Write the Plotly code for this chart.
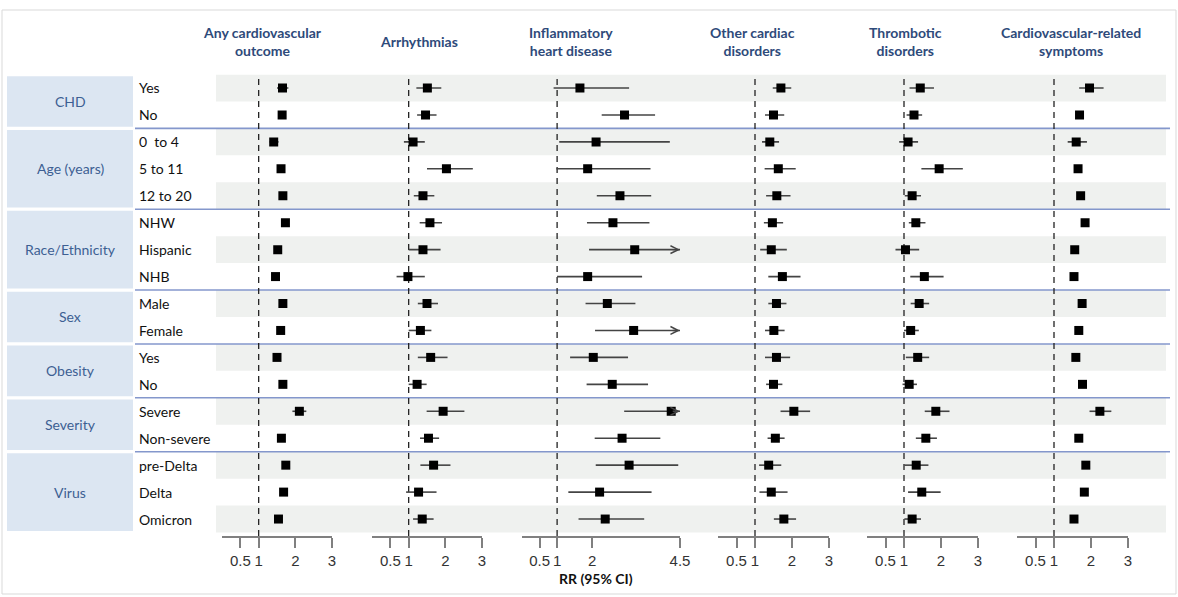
import plotly.graph_objects as go

W, H = 1178, 597

outcomes = ["Any cardiovascular<br>outcome", "Arrhythmias", "Inflammatory<br>heart disease",
            "Other cardiac<br>disorders", "Thrombotic<br>disorders", "Cardiovascular-related<br>symptoms"]

groups = ["CHD", "Age (years)", "Race/Ethnicity", "Sex", "Obesity", "Severity", "Virus"]
group_sizes = [2, 3, 3, 2, 2, 2, 3]
rows = ["Yes", "No", "0\u00a0 to 4", "5 to 11", "12 to 20", "NHW", "Hispanic", "NHB", "Male", "Female",
        "Yes", "No", "Severe", "Non-severe", "pre-Delta", "Delta", "Omicron"]

any_cv_est = [1.65, 1.64, 1.41, 1.61, 1.66, 1.73, 1.52, 1.46, 1.66, 1.60, 1.50, 1.66, 2.11, 1.62, 1.74, 1.68, 1.54]
any_cv_lo = [1.50, 1.58, 1.30, 1.55, 1.60, 1.67, 1.45, 1.38, 1.60, 1.55, 1.45, 1.60, 1.92, 1.57, 1.66, 1.60, 1.48]
any_cv_hi = [1.81, 1.70, 1.54, 1.68, 1.72, 1.79, 1.60, 1.55, 1.72, 1.66, 1.56, 1.72, 2.30, 1.68, 1.82, 1.77, 1.60]

arr_est = [1.51, 1.46, 1.12, 2.03, 1.39, 1.58, 1.39, 0.98, 1.50, 1.32, 1.60, 1.23, 1.94, 1.54, 1.68, 1.27, 1.37]
arr_lo = [1.21, 1.23, 0.87, 1.50, 1.14, 1.30, 1.00, 0.67, 1.25, 1.00, 1.25, 1.00, 1.49, 1.31, 1.32, 0.93, 1.12]
arr_hi = [1.89, 1.76, 1.44, 2.75, 1.70, 1.91, 1.87, 1.44, 1.80, 1.62, 2.06, 1.49, 2.52, 1.83, 2.14, 1.76, 1.68]

inf_est = [1.65, 2.92, 2.11, 1.87, 2.79, 2.59, 3.21, 1.87, 2.43, 3.18, 2.03, 2.57, 4.25, 2.85, 3.05, 2.21, 2.37]
inf_lo = [0.90, 2.27, 1.06, 0.98, 2.13, 1.85, 1.91, 1.00, 1.81, 2.08, 1.37, 1.84, 2.91, 2.07, 2.10, 1.32, 1.61]
inf_hi = [3.05, 3.79, 4.21, 3.66, 3.68, 3.63, None, 3.42, 3.23, None, 3.02, 3.59, None, 3.94, 4.45, 3.69, 3.48]

oth_est = [1.70, 1.50, 1.40, 1.63, 1.59, 1.47, 1.44, 1.74, 1.58, 1.51, 1.58, 1.50, 2.05, 1.55, 1.37, 1.44, 1.78]
oth_lo = [1.48, 1.27, 1.19, 1.26, 1.30, 1.24, 1.14, 1.36, 1.36, 1.27, 1.27, 1.30, 1.69, 1.34, 1.11, 1.12, 1.51]
oth_hi = [1.98, 1.79, 1.65, 2.10, 1.96, 1.76, 1.86, 2.23, 1.85, 1.80, 1.95, 1.74, 2.49, 1.80, 1.71, 1.88, 2.11]

thr_est = [1.44, 1.27, 1.11, 1.95, 1.22, 1.32, 1.04, 1.55, 1.41, 1.18, 1.37, 1.14, 1.86, 1.59, 1.33, 1.48, 1.22]
thr_lo = [1.15, 1.07, 0.87, 1.47, 1.02, 1.13, 0.77, 1.17, 1.18, 1.00, 1.05, 0.96, 1.56, 1.32, 1.01, 1.11, 1.01]
thr_hi = [1.81, 1.49, 1.38, 2.59, 1.46, 1.58, 1.41, 2.07, 1.68, 1.40, 1.68, 1.35, 2.23, 1.89, 1.66, 1.99, 1.46]

sym_est = [1.96, 1.69, 1.60, 1.65, 1.72, 1.84, 1.56, 1.54, 1.76, 1.67, 1.59, 1.77, 2.24, 1.67, 1.86, 1.82, 1.54]
sym_lo = [1.68, 1.64, 1.37, 1.58, 1.66, 1.78, 1.49, 1.46, 1.70, 1.62, 1.54, 1.72, 1.96, 1.62, 1.79, 1.74, 1.49]
sym_hi = [2.34, 1.74, 1.89, 1.72, 1.78, 1.90, 1.63, 1.62, 1.81, 1.72, 1.64, 1.82, 2.55, 1.72, 1.94, 1.90, 1.59]

tick_vals_std = [0.5, 1, 2, 3]
tick_vals_inf = [0.5, 1, 2, 4.5]
axis_max = [3, 3, 4.5, 3, 3, 3]

series = [(any_cv_est, any_cv_lo, any_cv_hi), (arr_est, arr_lo, arr_hi), (inf_est, inf_lo, inf_hi),
          (oth_est, oth_lo, oth_hi), (thr_est, thr_lo, thr_hi), (sym_est, sym_lo, sym_hi)]

# layout geometry (pixels)
panel_px = [(222, 332), (372, 482), (522, 680), (718, 829), (867, 978), (1017, 1128)]
header_cx = [262, 419, 571, 752, 905, 1071]
row0_py, row_h = 88.0, 26.94
axis_py, top_py = 536.0, 74.5

def px(x):
    return x / W

def py(y):
    return 1 - y / H

nrows = len(rows)
yr_bottom = 1 + (axis_py - row0_py) / row_h
yr_top = 1 + (top_py - row0_py) / row_h

FONT = "Lato"
fig = go.Figure()
shapes = []
annotations = []

# outer border
shapes.append(dict(type="rect", xref="paper", yref="paper", x0=px(2), x1=px(1176), y0=py(594), y1=py(10),
                   line=dict(color="#d9d9d9", width=1), fillcolor="rgba(0,0,0,0)", layer="below"))

# alternating bands
for i in range(nrows):
    r = i + 1
    if i % 2 == 0:
        shapes.append(dict(type="rect", xref="paper", yref="y", x0=px(216), x1=px(1166), y0=r - 0.5, y1=r + 0.5,
                           fillcolor="#eff1ef", line=dict(width=0), layer="below"))

# group boxes, labels, separators
start = 1
for gi, (g, n) in enumerate(zip(groups, group_sizes)):
    r0 = start - 0.5
    r1 = start + n - 0.5
    shapes.append(dict(type="rect", xref="paper", yref="y", x0=px(7), x1=px(133), y0=r0 + 0.06, y1=r1 - 0.06,
                       fillcolor="#dce6f2", line=dict(width=0), layer="below"))
    annotations.append(dict(xref="paper", yref="y", x=px(70), y=(r0 + r1) / 2, text=g, showarrow=False,
                            xanchor="center", yanchor="middle",
                            font=dict(family=FONT, size=14, color="#3d5f93")))
    if gi < len(groups) - 1:
        shapes.append(dict(type="line", xref="paper", yref="y", x0=px(135), x1=px(1170), y0=r1, y1=r1,
                           line=dict(color="#8497cc", width=1.6), layer="below"))
    start += n

for i, lab in enumerate(rows):
    annotations.append(dict(xref="paper", yref="y", x=px(137), y=i + 1, text=lab, showarrow=False,
                            xanchor="left", yanchor="middle", font=dict(family=FONT, size=14, color="#111111")))

# panels
ys = list(range(1, nrows + 1))
for p, (est, lo, hi) in enumerate(series):
    xa = "x" if p == 0 else f"x{p + 1}"
    axname = "xaxis" if p == 0 else f"xaxis{p + 1}"
    amax = axis_max[p]
    tv = tick_vals_inf if amax > 3 else tick_vals_std
    fig.update_layout({axname: dict(domain=[px(panel_px[p][0]), px(panel_px[p][1])], range=[0, amax],
                                    anchor="y", showgrid=False, zeroline=False, showline=True,
                                    linecolor="#808080", linewidth=1.5, ticks="outside", ticklen=10,
                                    tickwidth=1.5, tickcolor="#808080", tickvals=tv,
                                    ticktext=[("%g" % v) for v in tv], automargin=False,
                                    tickfont=dict(family="Liberation Sans, Arial", size=15, color="#333333"),
                                    fixedrange=True)})
    # reference line at RR = 1
    shapes.append(dict(type="line", xref=xa, yref="paper", x0=1, x1=1, y0=py(axis_py), y1=py(77),
                       line=dict(color="#222222", width=1.3, dash="6px,5px"), layer="below"))
    # CI lines
    lx, ly = [], []
    for r, a, b in zip(ys, lo, hi):
        bb = amax if b is None else b
        lx += [a, bb, None]
        ly += [r, r, None]
        if b is None:
            annotations.append(dict(xref=xa, yref="y", axref=xa, ayref="y", x=amax, y=r, ax=amax - 0.25, ay=r,
                                    showarrow=True, arrowhead=5, arrowsize=1.1, arrowwidth=1.4,
                                    arrowcolor="#444444", text="", standoff=0))
    fig.add_trace(go.Scatter(x=lx, y=ly, xaxis=xa, yaxis="y", mode="lines",
                             line=dict(color="#444444", width=1.6), hoverinfo="skip", showlegend=False))
    fig.add_trace(go.Scatter(x=est, y=ys, xaxis=xa, yaxis="y", mode="markers",
                             marker=dict(symbol="square", size=9, color="#000000"),
                             showlegend=False))
    annotations.append(dict(xref="paper", yref="paper", x=px(header_cx[p]), y=py(42),
                            text="<b>" + outcomes[p].replace("<br>", "</b><br><b>") + "</b>",
                            showarrow=False, xanchor="center", yanchor="middle",
                            font=dict(family=FONT, size=14, color="#2e4a7a")))

annotations.append(dict(xref="paper", yref="paper", x=px(596), y=py(578), text="<b>RR (95% CI)</b>",
                        showarrow=False, xanchor="center", yanchor="middle",
                        font=dict(family=FONT, size=14, color="#111111")))

fig.update_layout(
    width=W, height=H, margin=dict(l=0, r=0, t=0, b=0, pad=0, autoexpand=False),
    paper_bgcolor="white", plot_bgcolor="rgba(0,0,0,0)",
    yaxis=dict(domain=[py(axis_py), py(top_py)], range=[yr_bottom, yr_top], visible=False,
               fixedrange=True, automargin=False),
    shapes=shapes, annotations=annotations, showlegend=False,
)

fig.write_html("out.html")
